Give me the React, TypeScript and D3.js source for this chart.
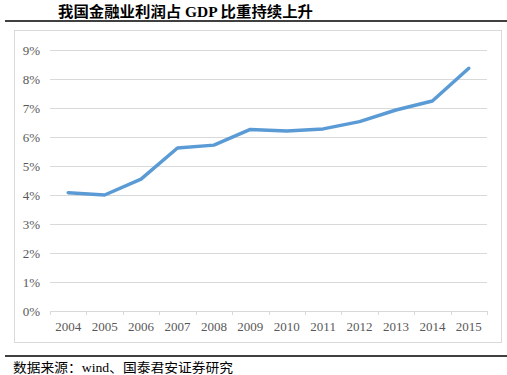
import React from "react";
import * as d3 from "d3";

const years = ["2004","2005","2006","2007","2008","2009","2010","2011","2012","2013","2014","2015"];
const share = [4.08, 4.0, 4.55, 5.62, 5.72, 6.26, 6.21, 6.28, 6.53, 6.93, 7.24, 8.37];
const yTicks = [0,1,2,3,4,5,6,7,8,9];
const title = "我国金融业利润占 GDP 比重持续上升";
const source = "数据来源：wind、国泰君安证券研究";

export default function App() {
  const W = 507, H = 375;
  const x = d3.scaleBand<string>().domain(years).range([50, 487]);
  const y = d3.scaleLinear().domain([0, 9]).range([311, 50]);
  const line = d3.line<number>()
    .x((_, i) => (x(years[i]) as number) + x.bandwidth() / 2)
    .y(d => y(d));
  const serif = "'Liberation Serif', 'DejaVu Serif', serif";
  const cjk = "'Liberation Serif', 'Noto Sans CJK SC', serif";
  const boundaries = years.map(yr => x(yr) as number).concat([487]);
  return (
    <svg width={W} height={H} style={{ position: "absolute", left: 0, top: 0, background: "#fff" }}>
      <text x={58} y={17} fontFamily={cjk} fontWeight="bold" fontSize={14.5} fill="#000" textLength={255} lengthAdjust="spacingAndGlyphs">{title}</text>
      <line x1={5} x2={507} y1={21} y2={21} stroke="#000" strokeWidth={1.5} />
      <rect x={14.5} y={30.5} width={487} height={312} fill="#fff" stroke="#d9d9d9" strokeWidth={1} />
      {yTicks.map(t => (
        <g key={t}>
          {t > 0 && <line x1={50} x2={487} y1={Math.round(y(t)) + 0.5} y2={Math.round(y(t)) + 0.5} stroke="#d9d9d9" strokeWidth={1} />}
          <text x={40} y={y(t) + 4.5} textAnchor="end" fontFamily={serif} fontSize={13} fill="#595959">{t}%</text>
        </g>
      ))}
      <line x1={50} x2={487} y1={Math.round(y(0)) + 0.5} y2={Math.round(y(0)) + 0.5} stroke="#d9d9d9" strokeWidth={1} />
      {boundaries.map((b, i) => (
        <line key={i} x1={Math.round(b) + 0.5} x2={Math.round(b) + 0.5} y1={311} y2={315} stroke="#d9d9d9" strokeWidth={1} />
      ))}
      {years.map(yr => (
        <text key={yr} x={(x(yr) as number) + x.bandwidth() / 2} y={331} textAnchor="middle" fontFamily={serif} fontSize={13} fill="#595959">{yr}</text>
      ))}
      <path d={line(share) || ""} fill="none" stroke="#5b9bd5" strokeWidth={3.5} strokeLinejoin="round" strokeLinecap="round" />
      <line x1={5} x2={507} y1={356} y2={356} stroke="#000" strokeWidth={1.5} />
      <text x={13} y={372} fontFamily={cjk} fontSize={13} fill="#000" textLength={220} lengthAdjust="spacingAndGlyphs">{source}</text>
    </svg>
  );
}
